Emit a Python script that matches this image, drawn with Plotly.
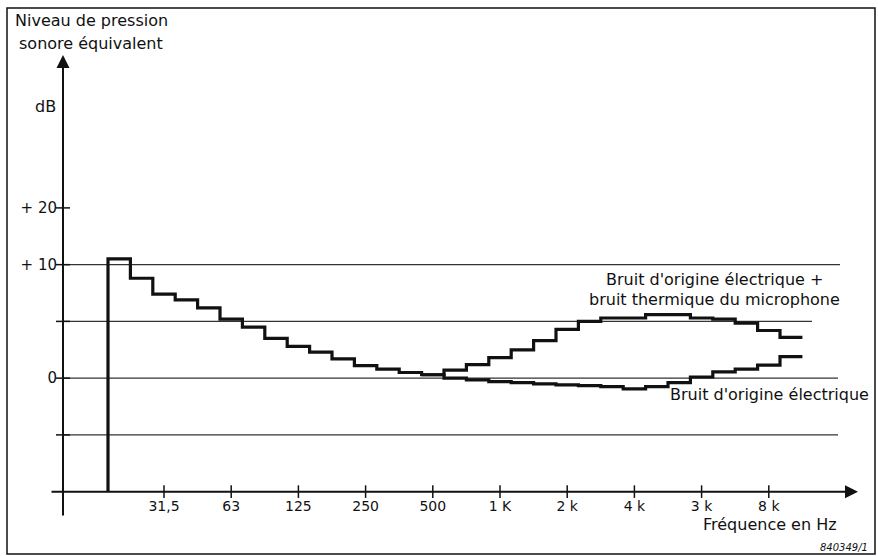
import plotly.graph_objects as go

# ---------------- data ----------------
# 1/3-octave band index (0 = 31.5 Hz band)
band_index = list(range(-2, 29))
total_noise_db = [10.5, 8.8, 7.4, 6.9, 6.2, 5.2, 4.5, 3.5, 2.8, 2.3, 1.7, 1.1,
                  0.8, 0.5, 0.3, 0.7, 1.2, 1.8, 2.5, 3.3, 4.3, 5.0, 5.3, 5.3,
                  5.6, 5.6, 5.3, 5.2, 4.85, 4.2, 3.6]
electric_index = list(range(12, 29))
electric_noise_db = [0.3, 0.0, -0.15, -0.3, -0.4, -0.5, -0.6, -0.65, -0.75,
                     -0.95, -0.75, -0.4, 0.1, 0.55, 0.8, 1.15, 1.9]

x_tick_index = [0, 3, 6, 9, 12, 15, 18, 21, 24, 27]
x_tick_labels = ["31,5", "63", "125", "250", "500", "1 K", "2 k", "4 k", "3 k", "8 k"]
y_tick_values = [-5, 0, 5, 10, 15]
y_tick_labels = ["", "0", "", "+ 10", "+ 20"]
grid_levels = [-5, 0, 5, 10]

# ---------------- layout constants ----------------
W, H = 878, 556
PX_BAND, X0_PX = 22.4, 164.0
PX_DB, Y5_PX = 11.35, 321.4

def px2x(px):
    return (px - X0_PX) / PX_BAND

def px2y(py):
    return 5 + (Y5_PX - py) / PX_DB

xr = [px2x(0), px2x(W)]
yr = [px2y(H), px2y(0)]
AXIS_Y = -10
AXIS_X = px2x(63)

def steps(idx, vals):
    xs = [i - 0.5 for i in idx] + [idx[-1] + 0.5]
    ys = list(vals) + [vals[-1]]
    return xs, ys

FONT = "DejaVu Sans"
INK = "#111111"

fig = go.Figure()

ux, uy = steps(band_index, total_noise_db)
ux = [ux[0]] + ux
uy = [AXIS_Y] + uy
fig.add_trace(go.Scatter(x=ux, y=uy, mode="lines", line=dict(shape="hv", color=INK, width=3.2),
                         hoverinfo="skip", showlegend=False))
lx, ly = steps(electric_index, electric_noise_db)
fig.add_trace(go.Scatter(x=lx, y=ly, mode="lines", line=dict(shape="hv", color=INK, width=3.2),
                         hoverinfo="skip", showlegend=False))

# tick marks crossing the axes
fig.add_trace(go.Scatter(x=x_tick_index, y=[AXIS_Y] * len(x_tick_index), mode="markers",
                         marker=dict(symbol="line-ns-open", size=9, color=INK,
                                     line=dict(color=INK, width=1.5)),
                         hoverinfo="skip", showlegend=False))
fig.add_trace(go.Scatter(x=[AXIS_X] * len(y_tick_values), y=y_tick_values, mode="markers",
                         marker=dict(symbol="line-ew-open", size=10, color=INK,
                                     line=dict(color=INK, width=1.5)),
                         hoverinfo="skip", showlegend=False))

shapes = []
grid_end_px = {-5: 838, 0: 838, 5: 812, 10: 840}
for g in grid_levels:
    shapes.append(dict(type="line", xref="x", yref="y", x0=AXIS_X, x1=px2x(grid_end_px[g]),
                       y0=g, y1=g, line=dict(color="#333333", width=1.2), layer="below"))
shapes.append(dict(type="rect", xref="paper", yref="paper", x0=7 / W, x1=875 / W,
                   y0=1 - 554 / H, y1=1 - 8 / H, line=dict(color=INK, width=1.5)))

annotations = [
    # axes with arrows
    dict(x=AXIS_X, y=px2y(55), ax=AXIS_X, ay=px2y(517), xref="x", yref="y", axref="x", ayref="y",
         text="", showarrow=True, arrowhead=2, arrowsize=1.3, arrowwidth=2, arrowcolor=INK),
    dict(x=px2x(858), y=AXIS_Y, ax=px2x(50), ay=AXIS_Y, xref="x", yref="y", axref="x", ayref="y",
         text="", showarrow=True, arrowhead=2, arrowsize=1.3, arrowwidth=2, arrowcolor=INK),
]

def label(text, px, py, size=16, xanchor="center", italic=False):
    annotations.append(dict(x=px / W, y=1 - py / H, xref="paper", yref="paper", text=text,
                            showarrow=False, xanchor=xanchor, yanchor="middle",
                            font=dict(family=FONT, size=size, color=INK,
                                      style="italic" if italic else "normal")))

label("Niveau de pression", 91, 21)
label("sonore équivalent", 91, 44)
label("dB", 45, 106)
label("Fréquence en Hz", 839, 524, xanchor="right")
label("840349/1", 870, 547, size=10, xanchor="right", italic=True)
label("Bruit d'origine électrique +", 714, 279)
label("bruit thermique du microphone", 714, 299)
label("Bruit d'origine électrique", 668, 394, xanchor="left")

fig.update_layout(
    width=W, height=H, template="none",
    margin=dict(l=0, r=0, t=0, b=0),
    paper_bgcolor="white", plot_bgcolor="white",
    shapes=shapes, annotations=annotations,
    xaxis=dict(range=xr, showgrid=False, zeroline=False, showline=False, ticks="",
               tickvals=x_tick_index, ticktext=x_tick_labels, anchor="free",
               position=(AXIS_Y - yr[0]) / (yr[1] - yr[0]), automargin=False,
               tickfont=dict(family=FONT, size=14, color=INK), ticklabelstandoff=4),
    yaxis=dict(range=yr, showgrid=False, zeroline=False, showline=False, ticks="",
               tickvals=y_tick_values, ticktext=y_tick_labels, anchor="free",
               position=(AXIS_X - xr[0]) / (xr[1] - xr[0]), automargin=False,
               tickfont=dict(family=FONT, size=15, color=INK), ticklabelstandoff=6),
)

fig.write_html("out.html", config={"displayModeBar": False},
               post_script="document.body.style.margin='0';")
